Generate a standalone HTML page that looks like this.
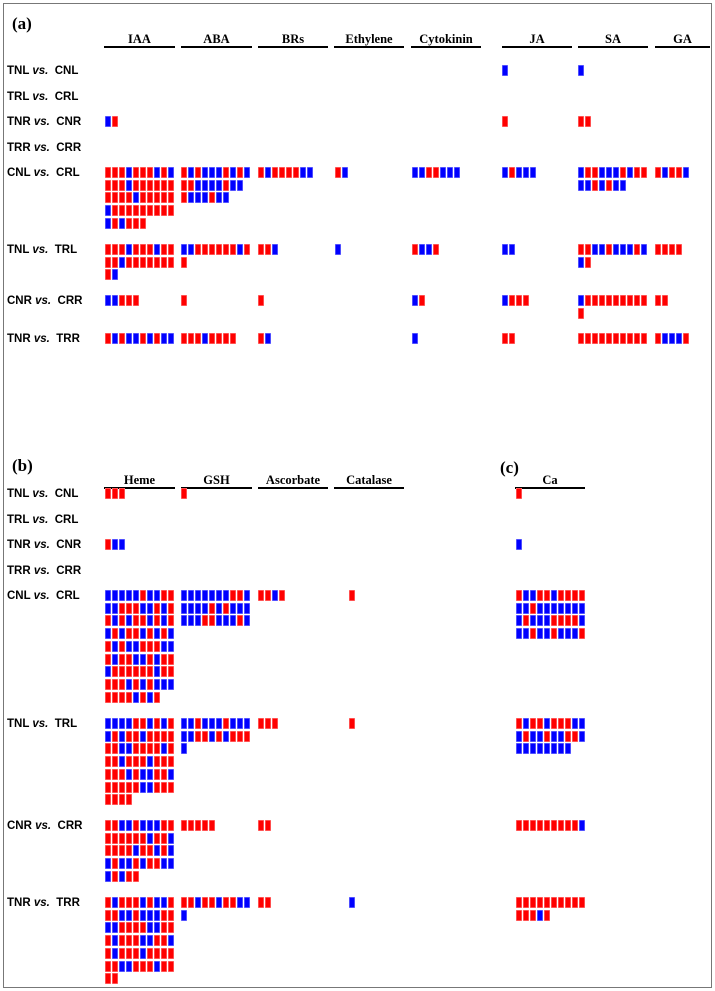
<!DOCTYPE html>
<html><head><meta charset="utf-8">
<style>
body{margin:0;background:#fff;width:715px;height:991px;overflow:hidden;position:relative;font-family:"Liberation Sans",Arial,sans-serif}
#frame{position:absolute;left:3px;top:3px;width:707px;height:983px;border:1px solid #777}
.lbl{position:absolute;left:7px;font-size:11.5px;font-weight:bold;white-space:nowrap;line-height:12px}
.lbl i{font-style:italic}
.hd{position:absolute;font-family:"Liberation Serif",serif;font-weight:bold;font-size:12.5px;text-align:center}
.ln{position:absolute;height:2px;background:#000}
.pl{position:absolute;font-family:"Liberation Serif",serif;font-weight:bold;font-size:17px}
.c{position:absolute;width:6px;height:11px}
</style></head><body>
<div id="frame"></div>
<div id="root"></div>
<script>
// values: R = up (red), B = down (blue); each string is one row of cells
const labelsA = ["TNL|CNL","TRL|CRL","TNR|CNR","TRR|CRR","CNL|CRL","TNL|TRL","CNR|CRR","TNR|TRR"];
const labelYA = [71,97,122,148,173,250,301,339];
const hormones = ["IAA","ABA","BRs","Ethylene","Cytokinin","JA","SA","GA"];
const IAA = [[],[],["BR"],[],["RRRBRRRBRB","RRRBRRRRRR","RRRRBRRRRR","BRRRRRRRRR","BRBRRR"],["RRRBRRRBRR","RRBRRRRRRR","RB"],["BBRRR"],["RBRBBRBRBB"]];
const ABA = [[],[],[],[],["RBRBBBRBRB","RRBBBBRBB","RBBBRBB"],["BBRRRRRRBR","R"],["R"],["RRRBRRRR"]];
const BRs = [[],[],[],[],["RBRRRRBB"],["RRB"],["R"],["RB"]];
const Ethylene = [[],[],[],[],["RB"],["B"],[],[]];
const Cytokinin = [[],[],[],[],["BBRRBBB"],["RBBR"],["BR"],["B"]];
const JA = [["B"],[],["R"],[],["BRBBB"],["BB"],["BRRR"],["RR"]];
const SA = [["B"],[],["RR"],[],["BRRBBBRBRR","BBRBRBB"],["RRBBRBBBRB","BR"],["BRRRRRRRRR","R"],["RRRRRRRRRR"]];
const GA = [[],[],[],[],["RBRRB"],["RRRR"],["RR"],["RBBBR"]];
const labelsB = ["TNL|CNL","TRL|CRL","TNR|CNR","TRR|CRR","CNL|CRL","TNL|TRL","CNR|CRR","TNR|TRR"];
const labelYB = [494,520,545,571,596,724,826,903];
const redox = ["Heme","GSH","Ascorbate","Catalase"];
const Heme = [["RRR"],[],["RBB"],[],["BBBBBRBBRR","BBRRRBBRBR","RBRBRRBRBR","BRBRRBRBRB","RBRBBRRRBB","RBRRBBRBRR","BRRRRRRBRR","RRRBRBRBBB","RRRRBRBR"],["BBBBRRBRBR","BRBRRBRRRR","RRBBRRRRBR","RRBRRRBRRR","RRRBRBBRRB","RRRRRBBRRR","RRRR"],["RRBBRBBBRR","RRRRRRBRRB","RRRRBRRBRB","BRBBRBRRBB","BRBRR"],["RBRRRBRBBR","RRBBRBBBRR","BBRRRRBBRR","RBRRRBBRRB","RBRRRBRRRR","RRBBRRRBRR","RR"]];
const GSH = [["R"],[],[],[],["BBBBBBBRRB","BBBBRBRBBB","BBBRRBBBRB"],["BBRBBBRBBB","BBRRBRBRRR","B"],["RRRRR"],["RRBRRBRRBB","B"]];
const Ascorbate = [[],[],[],[],["RRBR"],["RRR"],["RR"],["RR"]];
const Catalase = [[],[],[],[],["R"],["R"],[],["B"]];
const Ca = [["R"],[],["B"],[],["RBBRRBRRRR","BBRBBBBBBB","BRBBBRRRRB","BBRBBRBBBR"],["RBRRBRRRBB","BRBBRBBRRB","BBBBBBBB"],["RRRRRRRRRB"],["RRRRRRRRRR","RRRBR"]];

const root=document.getElementById('root');
function mk(cls,x,y,html){const d=document.createElement('div');d.className=cls;d.style.left=x+'px';d.style.top=y+'px';if(html!==undefined)d.innerHTML=html;root.appendChild(d);return d;}
function label(txt,y){const p=txt.split('|');const d=mk('lbl',7,y-6,p[0]+' <i>vs.</i>&nbsp; '+p[1]);

}
function header(name,x0,x1,ty,ly){const t=mk('hd',x0,ty,name);t.style.width=(x1-x0)+'px';


const l=mk('ln',x0,ly);l.style.width=(x1-x0)+'px';

}
const xScale=(x0,i)=>x0+i*7;
const yScale=(y0,r,pitch)=>y0+r*pitch;
function cells(name,data,x0,labelYs,pitch){data.forEach((rows,g)=>{rows.forEach((s,r)=>{[...s].forEach((ch,i)=>{
const c=mk('c',xScale(x0,i),Math.round(yScale(labelYs[g]-6,r,pitch)));
c.style.background=ch==='R'?'#ff0000':'#0000ff';
c.style.boxShadow='inset 0 0 0 0.6px '+(ch==='R'?'#ff8080':'#8080ff');

});});});}

// panel a
let p=mk('pl',12,14,'(a)');


labelsA.forEach((t,i)=>label(t,labelYA[i]));
const hx=[[104,175],[181,252],[258,328],[334,404],[411,481],[502,572],[578,648],[655,710]];
const cx=[105,181,258,335,412,502,578,655];
const hdata=[IAA,ABA,BRs,Ethylene,Cytokinin,JA,SA,GA];
hormones.forEach((h,i)=>{header(h,hx[i][0],hx[i][1],32,46);cells(h.toLowerCase(),hdata[i],cx[i],labelYA,12.7);});

// panel b / c
p=mk('pl',12,456,'(b)');


p=mk('pl',500,458,'(c)');


labelsB.forEach((t,i)=>label(t,labelYB[i]));
const bx=[[104,175],[181,252],[258,328],[334,404]];
const bcx=[105,181,258,349];
const bdata=[Heme,GSH,Ascorbate,Catalase];
redox.forEach((h,i)=>{header(h,bx[i][0],bx[i][1],473,487);cells(h.toLowerCase(),bdata[i],bcx[i],labelYB,12.7);});
header('Ca',515,585,473,487);
cells('ca',Ca,516,labelYB,12.7);
</script>
</body></html>
